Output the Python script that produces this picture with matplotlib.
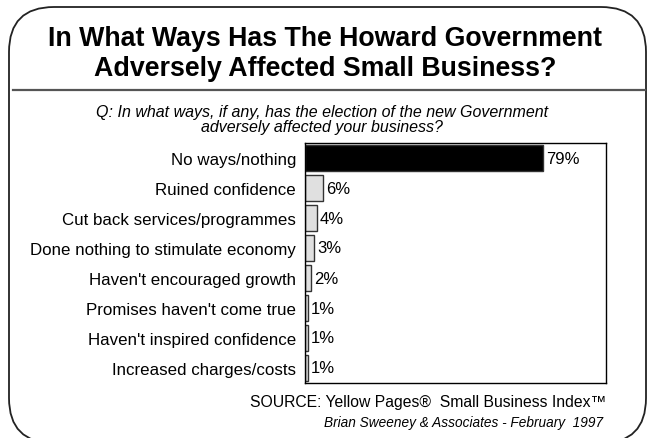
import matplotlib.pyplot as plt
from matplotlib.patches import FancyBboxPatch

plt.rcParams['font.family'] = ['Liberation Sans', 'DejaVu Sans']

categories = ['No ways/nothing', 'Ruined confidence', 'Cut back services/programmes',
              'Done nothing to stimulate economy', "Haven't encouraged growth",
              "Promises haven't come true", "Haven't inspired confidence",
              'Increased charges/costs']
values = [79, 6, 4, 3, 2, 1, 1, 1]
value_labels = ['79%', '6%', '4%', '3%', '2%', '1%', '1%', '1%']

W, H = 648, 439
fig = plt.figure(figsize=(W / 100, H / 100), dpi=100)

# background layer in pixel coordinates: rounded frame, rule and texts
bg = fig.add_axes([0, 0, 1, 1])
bg.set_xlim(0, W)
bg.set_ylim(H, 0)
bg.axis('off')
frame = FancyBboxPatch((9, 8), 637, 436, boxstyle='round,pad=0,rounding_size=45',
                       facecolor='white', edgecolor='#222222', linewidth=1.3)
bg.add_patch(frame)
bg.plot([13, 645], [91, 91], color='#555555', linewidth=1.6)

bg.text(325, 46, 'In What Ways Has The Howard Government', ha='center', va='baseline',
        fontsize=19.3, fontweight='bold')
bg.text(325, 76, 'Adversely Affected Small Business?', ha='center', va='baseline',
        fontsize=19.3, fontweight='bold')
bg.text(322, 117, 'Q: In what ways, if any, has the election of the new Government',
        ha='center', va='baseline', fontsize=11.5, style='italic')
bg.text(322, 132, 'adversely affected your business?', ha='center', va='baseline',
        fontsize=11.5, style='italic')
bg.text(606, 407, 'SOURCE: Yellow Pages®  Small Business Index™', ha='right',
        va='baseline', fontsize=11.3)
bg.text(603, 427, 'Brian Sweeney & Associates - February  1997', ha='right',
        va='baseline', fontsize=9.8, style='italic')

# bar chart area
ax = fig.add_axes([305 / W, 1 - 384 / H, 301 / W, 240 / H])
colors = ['black'] + ['#e0e0e0'] * (len(values) - 1)
y = list(range(len(values)))
ax.barh(y, values, height=0.86, color=colors, edgecolor='#333333', linewidth=1)
ax.set_xlim(0, 100)
ax.set_ylim(len(values) - 0.5, -0.5)
ax.set_xticks([])
ax.set_yticks(y)
ax.set_yticklabels(categories, fontsize=12.2)
ax.tick_params(axis='y', length=0, pad=6.5)
for spine in ax.spines.values():
    spine.set_linewidth(1)

for yi, v, lab in zip(y, values, value_labels):
    ax.text(v + 1, yi, lab, ha='left', va='center', fontsize=12)

fig.savefig('out.png', dpi=100)
